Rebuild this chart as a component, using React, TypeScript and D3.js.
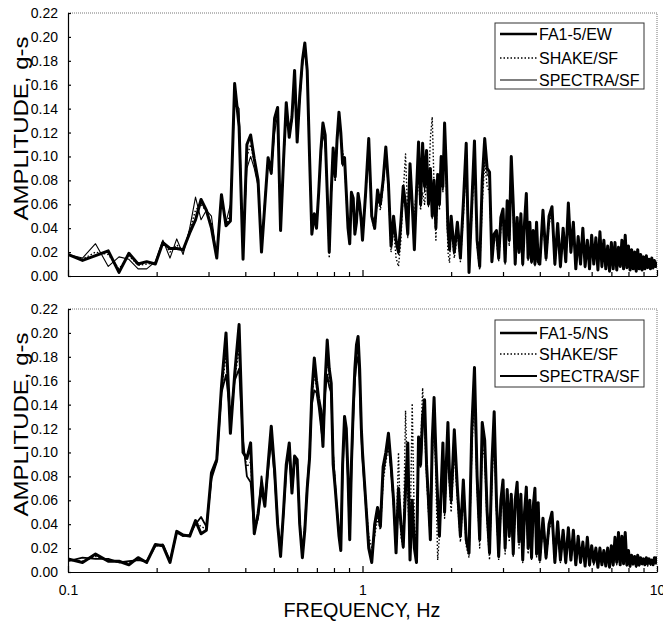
import React, { useEffect, useRef } from 'react';
import * as d3 from 'd3';

// frequency bins (Hz), shared by every series; coarser steps above 1 Hz
const freqHz = [
  0.100, 0.112, 0.124, 0.137, 0.149, 0.161, 0.173, 0.185, 0.198, 0.210,
  0.222, 0.234, 0.246, 0.259, 0.271, 0.283, 0.295, 0.307, 0.320, 0.332,
  0.344, 0.356, 0.368, 0.381, 0.393, 0.405, 0.417, 0.429, 0.442, 0.454,
  0.466, 0.478, 0.490, 0.503, 0.515, 0.527, 0.539, 0.551, 0.564, 0.576,
  0.588, 0.600, 0.612, 0.625, 0.637, 0.649, 0.661, 0.673, 0.686, 0.698,
  0.710, 0.722, 0.734, 0.747, 0.759, 0.771, 0.783, 0.795, 0.808, 0.820,
  0.832, 0.844, 0.856, 0.869, 0.881, 0.893, 0.905, 0.917, 0.930, 0.942,
  0.954, 0.966, 0.978, 0.991,
  1.000, 1.025, 1.050, 1.075, 1.100, 1.125, 1.150, 1.175, 1.200, 1.225,
  1.250, 1.275, 1.300, 1.325, 1.350, 1.375, 1.400, 1.425, 1.450, 1.475,
  1.500, 1.525, 1.550, 1.575, 1.600, 1.625, 1.650, 1.675, 1.700, 1.725,
  1.750, 1.775, 1.800, 1.825, 1.850, 1.875, 1.900, 1.925, 1.950, 1.975,
  2.00, 2.05, 2.10, 2.15, 2.20, 2.25, 2.30, 2.35, 2.40, 2.45,
  2.50, 2.55, 2.60, 2.65, 2.70, 2.75, 2.80, 2.85, 2.90, 2.95,
  3.00, 3.05, 3.10, 3.15, 3.20, 3.25, 3.30, 3.35, 3.40, 3.45,
  3.50, 3.55, 3.60, 3.65, 3.70, 3.75, 3.80, 3.85, 3.90, 3.95,
  4.0, 4.1, 4.2, 4.3, 4.4, 4.5, 4.6, 4.7, 4.8, 4.9,
  5.0, 5.1, 5.2, 5.3, 5.4, 5.5, 5.6, 5.7, 5.8, 5.9,
  6.0, 6.1, 6.2, 6.3, 6.4, 6.5, 6.6, 6.7, 6.8, 6.9,
  7.0, 7.1, 7.2, 7.3, 7.4, 7.5, 7.6, 7.7, 7.8, 7.9,
  8.0, 8.1, 8.2, 8.3, 8.4, 8.5, 8.6, 8.7, 8.8, 8.9,
  9.0, 9.1, 9.2, 9.3, 9.4, 9.5, 9.6, 9.7, 9.8, 9.9,
  10.0,
];

// top panel, EW component (amplitude, g-s)
const ewRecord = [
  0.018, 0.013, 0.017, 0.021, 0.003, 0.019, 0.010, 0.012, 0.010, 0.028,
  0.023, 0.023, 0.022, 0.036, 0.047, 0.064, 0.055, 0.040, 0.015, 0.068,
  0.042, 0.046, 0.161, 0.125, 0.014, 0.110, 0.118, 0.098, 0.080, 0.020,
  0.060, 0.099, 0.086, 0.132, 0.141, 0.038, 0.095, 0.145, 0.116, 0.133,
  0.172, 0.112, 0.150, 0.180, 0.195, 0.172, 0.100, 0.035, 0.052, 0.040,
  0.070, 0.105, 0.128, 0.118, 0.070, 0.020, 0.070, 0.107, 0.083, 0.115,
  0.137, 0.120, 0.094, 0.099, 0.070, 0.040, 0.027, 0.070, 0.065, 0.035,
  0.045, 0.069, 0.060, 0.045,
  0.030, 0.070, 0.115, 0.050, 0.040, 0.072, 0.060, 0.080, 0.108, 0.077,
  0.025, 0.050, 0.030, 0.020, 0.045, 0.075, 0.060, 0.035, 0.094, 0.060,
  0.022, 0.070, 0.112, 0.060, 0.111, 0.075, 0.105, 0.060, 0.090, 0.050,
  0.080, 0.040, 0.085, 0.060, 0.100, 0.075, 0.128, 0.090, 0.040, 0.022,
  0.050, 0.020, 0.045, 0.015, 0.061, 0.111, 0.003, 0.060, 0.113, 0.030,
  0.008, 0.080, 0.115, 0.090, 0.087, 0.012, 0.035, 0.038, 0.015, 0.049,
  0.056, 0.012, 0.063, 0.030, 0.100, 0.060, 0.010, 0.049, 0.020, 0.052,
  0.010, 0.045, 0.069, 0.015, 0.045, 0.012, 0.038, 0.010, 0.045, 0.012,
  0.010, 0.055, 0.015, 0.050, 0.058, 0.010, 0.044, 0.008, 0.040, 0.012,
  0.061, 0.020, 0.045, 0.006, 0.033, 0.010, 0.040, 0.008, 0.030, 0.006,
  0.034, 0.010, 0.032, 0.005, 0.037, 0.008, 0.030, 0.006, 0.025, 0.004,
  0.028, 0.006, 0.028, 0.005, 0.024, 0.008, 0.030, 0.006, 0.034, 0.007,
  0.025, 0.005, 0.022, 0.006, 0.020, 0.004, 0.022, 0.006, 0.018, 0.005,
  0.016, 0.006, 0.017, 0.007, 0.014, 0.006, 0.015, 0.007, 0.013, 0.008,
  0.012,
];

const ewShake = [
  0.018, 0.014, 0.020, 0.018, 0.006, 0.017, 0.009, 0.010, 0.011, 0.029,
  0.020, 0.026, 0.021, 0.038, 0.055, 0.060, 0.054, 0.044, 0.015, 0.067,
  0.043, 0.052, 0.155, 0.130, 0.016, 0.100, 0.110, 0.095, 0.078, 0.021,
  0.062, 0.097, 0.086, 0.126, 0.138, 0.039, 0.092, 0.142, 0.118, 0.131,
  0.168, 0.115, 0.148, 0.178, 0.192, 0.170, 0.098, 0.036, 0.050, 0.040,
  0.068, 0.102, 0.124, 0.114, 0.068, 0.015, 0.068, 0.104, 0.080, 0.112,
  0.133, 0.118, 0.104, 0.096, 0.066, 0.038, 0.028, 0.068, 0.063, 0.036,
  0.046, 0.067, 0.058, 0.044,
  0.030, 0.068, 0.110, 0.048, 0.038, 0.065, 0.055, 0.075, 0.104, 0.074,
  0.020, 0.040, 0.015, 0.008, 0.030, 0.070, 0.102, 0.050, 0.085, 0.062,
  0.050, 0.075, 0.080, 0.055, 0.070, 0.060, 0.078, 0.070, 0.115, 0.133,
  0.075, 0.030, 0.080, 0.055, 0.095, 0.070, 0.118, 0.080, 0.020, 0.011,
  0.040, 0.015, 0.035, 0.012, 0.050, 0.095, 0.010, 0.050, 0.098, 0.025,
  0.005, 0.060, 0.095, 0.075, 0.070, 0.015, 0.030, 0.030, 0.012, 0.040,
  0.048, 0.010, 0.055, 0.025, 0.085, 0.050, 0.008, 0.042, 0.018, 0.045,
  0.008, 0.040, 0.060, 0.012, 0.040, 0.010, 0.033, 0.008, 0.040, 0.010,
  0.009, 0.048, 0.013, 0.044, 0.052, 0.009, 0.040, 0.007, 0.036, 0.011,
  0.054, 0.018, 0.041, 0.006, 0.030, 0.009, 0.036, 0.007, 0.027, 0.006,
  0.030, 0.009, 0.029, 0.005, 0.033, 0.007, 0.027, 0.006, 0.023, 0.004,
  0.025, 0.006, 0.025, 0.005, 0.022, 0.007, 0.027, 0.006, 0.030, 0.007,
  0.023, 0.005, 0.020, 0.006, 0.018, 0.004, 0.020, 0.006, 0.016, 0.005,
  0.015, 0.006, 0.015, 0.006, 0.013, 0.006, 0.013, 0.006, 0.012, 0.007,
  0.011,
];

const ewSpectra = [
  0.018, 0.015, 0.027, 0.008, 0.016, 0.014, 0.006, 0.006, 0.012, 0.030,
  0.015, 0.031, 0.018, 0.040, 0.066, 0.047, 0.055, 0.050, 0.016, 0.066,
  0.045, 0.060, 0.145, 0.140, 0.020, 0.090, 0.100, 0.090, 0.075, 0.022,
  0.065, 0.095, 0.085, 0.120, 0.135, 0.040, 0.090, 0.140, 0.120, 0.130,
  0.165, 0.120, 0.145, 0.175, 0.190, 0.170, 0.100, 0.040, 0.048, 0.040,
  0.068, 0.100, 0.118, 0.110, 0.070, 0.025, 0.065, 0.100, 0.080, 0.110,
  0.130, 0.115, 0.092, 0.095, 0.068, 0.042, 0.030, 0.066, 0.062, 0.038,
  0.048, 0.066, 0.058, 0.046,
  0.032, 0.066, 0.108, 0.052, 0.042, 0.068, 0.058, 0.076, 0.100, 0.072,
  0.028, 0.046, 0.026, 0.018, 0.040, 0.070, 0.056, 0.032, 0.088, 0.058,
  0.025, 0.065, 0.105, 0.058, 0.104, 0.070, 0.100, 0.058, 0.085, 0.048,
  0.076, 0.042, 0.080, 0.058, 0.095, 0.072, 0.120, 0.085, 0.042, 0.025,
  0.048, 0.022, 0.042, 0.016, 0.058, 0.104, 0.006, 0.058, 0.106, 0.032,
  0.010, 0.076, 0.108, 0.085, 0.082, 0.014, 0.033, 0.036, 0.016, 0.046,
  0.053, 0.013, 0.060, 0.030, 0.095, 0.057, 0.012, 0.046, 0.020, 0.049,
  0.011, 0.043, 0.065, 0.016, 0.042, 0.013, 0.036, 0.011, 0.042, 0.013,
  0.011, 0.052, 0.016, 0.047, 0.055, 0.011, 0.042, 0.009, 0.038, 0.013,
  0.057, 0.020, 0.043, 0.007, 0.031, 0.011, 0.038, 0.009, 0.028, 0.007,
  0.032, 0.011, 0.030, 0.006, 0.035, 0.009, 0.028, 0.007, 0.024, 0.005,
  0.026, 0.007, 0.026, 0.006, 0.023, 0.008, 0.028, 0.007, 0.032, 0.008,
  0.024, 0.006, 0.021, 0.007, 0.019, 0.005, 0.021, 0.007, 0.017, 0.006,
  0.015, 0.007, 0.016, 0.007, 0.013, 0.007, 0.014, 0.007, 0.012, 0.008,
  0.011,
];

// bottom panel, NS component
const nsRecord = [
  0.011, 0.008, 0.015, 0.009, 0.009, 0.006, 0.012, 0.008, 0.023, 0.022,
  0.008, 0.034, 0.031, 0.030, 0.043, 0.032, 0.035, 0.083, 0.094, 0.155,
  0.200, 0.116, 0.165, 0.207, 0.100, 0.095, 0.108, 0.032, 0.049, 0.072,
  0.055, 0.090, 0.122, 0.085, 0.040, 0.013, 0.050, 0.090, 0.108, 0.066,
  0.097, 0.094, 0.040, 0.012, 0.035, 0.070, 0.095, 0.150, 0.179, 0.160,
  0.145, 0.135, 0.105, 0.160, 0.194, 0.170, 0.158, 0.090, 0.070, 0.050,
  0.030, 0.018, 0.090, 0.130, 0.120, 0.080, 0.027, 0.090, 0.136, 0.170,
  0.190, 0.197, 0.170, 0.120,
  0.100, 0.060, 0.020, 0.008, 0.040, 0.054, 0.038, 0.088, 0.100, 0.116,
  0.090, 0.060, 0.016, 0.070, 0.040, 0.021, 0.070, 0.108, 0.010, 0.060,
  0.020, 0.008, 0.113, 0.090, 0.130, 0.144, 0.090, 0.060, 0.027, 0.110,
  0.146, 0.100, 0.060, 0.030, 0.070, 0.108, 0.050, 0.090, 0.125, 0.080,
  0.060, 0.119, 0.070, 0.030, 0.077, 0.027, 0.016, 0.120, 0.171, 0.080,
  0.027, 0.125, 0.110, 0.050, 0.016, 0.090, 0.134, 0.060, 0.013, 0.060,
  0.077, 0.020, 0.069, 0.030, 0.065, 0.015, 0.060, 0.075, 0.025, 0.065,
  0.010, 0.050, 0.071, 0.020, 0.060, 0.012, 0.055, 0.070, 0.015, 0.058,
  0.010, 0.045, 0.012, 0.040, 0.050, 0.008, 0.042, 0.010, 0.035, 0.008,
  0.037, 0.010, 0.035, 0.006, 0.030, 0.008, 0.025, 0.005, 0.029, 0.006,
  0.022, 0.008, 0.020, 0.004, 0.020, 0.006, 0.018, 0.005, 0.020, 0.004,
  0.022, 0.006, 0.029, 0.008, 0.033, 0.006, 0.030, 0.007, 0.033, 0.006,
  0.018, 0.005, 0.014, 0.007, 0.013, 0.005, 0.014, 0.006, 0.012, 0.007,
  0.011, 0.006, 0.012, 0.007, 0.011, 0.007, 0.010, 0.006, 0.012, 0.008,
  0.013,
];

const nsShake = [
  0.010, 0.009, 0.013, 0.010, 0.008, 0.008, 0.011, 0.008, 0.022, 0.022,
  0.009, 0.033, 0.031, 0.030, 0.042, 0.038, 0.036, 0.080, 0.093, 0.152,
  0.180, 0.122, 0.162, 0.185, 0.104, 0.088, 0.092, 0.034, 0.048, 0.076,
  0.056, 0.088, 0.116, 0.083, 0.041, 0.014, 0.049, 0.088, 0.104, 0.067,
  0.095, 0.092, 0.041, 0.013, 0.036, 0.071, 0.096, 0.145, 0.165, 0.155,
  0.140, 0.128, 0.106, 0.155, 0.180, 0.162, 0.154, 0.099, 0.074, 0.050,
  0.032, 0.020, 0.088, 0.126, 0.118, 0.079, 0.029, 0.088, 0.132, 0.165,
  0.182, 0.188, 0.165, 0.118,
  0.098, 0.062, 0.030, 0.020, 0.030, 0.045, 0.035, 0.075, 0.092, 0.105,
  0.085, 0.055, 0.025, 0.100, 0.030, 0.020, 0.135, 0.060, 0.025, 0.141,
  0.040, 0.020, 0.090, 0.100, 0.154, 0.120, 0.080, 0.050, 0.030, 0.095,
  0.130, 0.080, 0.010, 0.030, 0.060, 0.100, 0.045, 0.080, 0.110, 0.070,
  0.050, 0.100, 0.060, 0.025, 0.065, 0.022, 0.012, 0.100, 0.150, 0.070,
  0.020, 0.105, 0.095, 0.040, 0.010, 0.075, 0.115, 0.050, 0.010, 0.050,
  0.065, 0.015, 0.060, 0.025, 0.055, 0.012, 0.050, 0.065, 0.020, 0.058,
  0.008, 0.042, 0.062, 0.015, 0.050, 0.010, 0.048, 0.060, 0.012, 0.050,
  0.008, 0.040, 0.010, 0.035, 0.044, 0.007, 0.037, 0.008, 0.031, 0.007,
  0.033, 0.009, 0.031, 0.005, 0.026, 0.007, 0.022, 0.005, 0.025, 0.005,
  0.020, 0.006, 0.018, 0.004, 0.018, 0.005, 0.016, 0.005, 0.018, 0.004,
  0.020, 0.005, 0.026, 0.006, 0.030, 0.005, 0.027, 0.006, 0.030, 0.005,
  0.016, 0.004, 0.012, 0.005, 0.011, 0.004, 0.012, 0.005, 0.010, 0.005,
  0.009, 0.005, 0.010, 0.005, 0.009, 0.005, 0.009, 0.005, 0.010, 0.006,
  0.011,
];

const nsSpectra = [
  0.009, 0.012, 0.011, 0.011, 0.008, 0.009, 0.010, 0.009, 0.022, 0.023,
  0.009, 0.033, 0.030, 0.031, 0.040, 0.046, 0.038, 0.078, 0.092, 0.150,
  0.165, 0.130, 0.160, 0.170, 0.110, 0.080, 0.075, 0.035, 0.045, 0.080,
  0.058, 0.085, 0.110, 0.080, 0.042, 0.015, 0.048, 0.085, 0.100, 0.068,
  0.092, 0.090, 0.042, 0.014, 0.038, 0.072, 0.098, 0.140, 0.152, 0.150,
  0.138, 0.122, 0.108, 0.150, 0.165, 0.155, 0.150, 0.098, 0.072, 0.050,
  0.032, 0.020, 0.085, 0.122, 0.115, 0.078, 0.030, 0.085, 0.128, 0.160,
  0.175, 0.180, 0.160, 0.115,
  0.095, 0.058, 0.022, 0.012, 0.038, 0.050, 0.040, 0.082, 0.095, 0.110,
  0.086, 0.058, 0.020, 0.065, 0.042, 0.024, 0.065, 0.100, 0.014, 0.058,
  0.024, 0.012, 0.105, 0.088, 0.120, 0.132, 0.088, 0.058, 0.030, 0.102,
  0.135, 0.096, 0.058, 0.032, 0.066, 0.100, 0.052, 0.085, 0.115, 0.078,
  0.058, 0.110, 0.068, 0.032, 0.072, 0.030, 0.018, 0.112, 0.158, 0.078,
  0.030, 0.115, 0.104, 0.050, 0.018, 0.085, 0.124, 0.058, 0.015, 0.057,
  0.072, 0.022, 0.065, 0.032, 0.062, 0.017, 0.057, 0.070, 0.026, 0.062,
  0.012, 0.048, 0.067, 0.021, 0.057, 0.013, 0.052, 0.066, 0.016, 0.055,
  0.011, 0.043, 0.013, 0.038, 0.047, 0.009, 0.040, 0.011, 0.033, 0.009,
  0.035, 0.011, 0.033, 0.007, 0.028, 0.009, 0.024, 0.006, 0.027, 0.007,
  0.021, 0.008, 0.019, 0.005, 0.019, 0.007, 0.017, 0.006, 0.019, 0.005,
  0.021, 0.007, 0.027, 0.008, 0.031, 0.007, 0.028, 0.007, 0.031, 0.007,
  0.017, 0.006, 0.013, 0.007, 0.012, 0.006, 0.013, 0.007, 0.011, 0.007,
  0.010, 0.006, 0.011, 0.007, 0.010, 0.007, 0.010, 0.006, 0.011, 0.008,
  0.012,
];

const yTicks = [0, 0.02, 0.04, 0.06, 0.08, 0.1, 0.12, 0.14, 0.16, 0.18, 0.2, 0.22];
const xMajor = [0.1, 1, 10];
const xMinor = [0.2, 0.3, 0.4, 0.5, 0.6, 0.7, 0.8, 0.9, 2, 3, 4, 5, 6, 7, 8, 9];
const ewLegend = ['FA1-5/EW', 'SHAKE/SF', 'SPECTRA/SF'];
const nsLegend = ['FA1-5/NS', 'SHAKE/SF', 'SPECTRA/SF'];

const FONT = 'Arial, "Liberation Sans", Helvetica, sans-serif';

const SpectraChart = () => {
  const svgRef = useRef(null);

  useEffect(() => {
    const svg = d3.select(svgRef.current);
    svg.selectAll('*').remove();

    const left = 68;
    const right = 657;
    const x = d3.scaleLog().domain([0.1, 10]).range([left, right]);

    const panels = [
      { top: 13, bottom: 276, data: [ewRecord, ewShake, ewSpectra], legend: ewLegend,
        thinWidth: 1.1, boxTop: 23, boxH: 66, rows: [34, 58, 80], labels: false },
      { top: 309, bottom: 572, data: [nsRecord, nsShake, nsSpectra], legend: nsLegend,
        thinWidth: 1.8, boxTop: 320, boxH: 67, rows: [333, 354, 376], labels: true },
    ];

    panels.forEach((p, pi) => {
      const y = d3.scaleLinear().domain([0, 0.22]).range([p.bottom, p.top]);
      const styles = [
        { w: 3, dash: null },
        { w: 1.4, dash: '1.5,2' },
        { w: p.thinWidth, dash: null },
      ];

      // dotted frame on top and right
      svg.append('path')
        .attr('d', `M${left},${p.top}H${right}V${p.bottom}`)
        .attr('fill', 'none').attr('stroke', '#777').attr('stroke-width', 1)
        .attr('stroke-dasharray', '1,1');

      const clipId = `plot-clip-${pi}`;
      svg.append('clipPath').attr('id', clipId)
        .append('rect').attr('x', left).attr('y', p.top - 2)
        .attr('width', right - left).attr('height', p.bottom - p.top + 2);

      const line = d3.line().x(d => x(d[0])).y(d => y(d[1]));
      const g = svg.append('g').attr('clip-path', `url(#${clipId})`);

      // spectra, shake, then the record on top
      [2, 1, 0].forEach(si => {
        const pts = freqHz.map((f, i) => [f, p.data[si][i]]).filter(d => d[1] != null);
        g.append('path').datum(pts)
          .attr('fill', 'none').attr('stroke', '#000')
          .attr('stroke-width', styles[si].w)
          .attr('stroke-linejoin', 'round')
          .attr('stroke-dasharray', styles[si].dash)
          .attr('d', line);
      });

      // y axis
      svg.append('g').attr('transform', `translate(${left},0)`)
        .call(d3.axisLeft(y).tickValues(yTicks).tickFormat(d3.format('.2f'))
          .tickSize(-3).tickSizeOuter(0).tickPadding(10))
        .attr('font-size', 14).attr('font-family', FONT)
        .call(a => a.selectAll('line,path').attr('stroke', '#000').attr('stroke-width', 1.2))
        .call(a => a.selectAll('text').attr('fill', '#000'));

      // x axis: minor ticks and majors
      svg.append('g').attr('transform', `translate(0,${p.bottom})`)
        .call(d3.axisBottom(x).tickValues(xMinor).tickFormat(() => '')
          .tickSize(-4).tickSizeOuter(0))
        .call(a => a.selectAll('line,path').attr('stroke', '#000').attr('stroke-width', 1.2));

      svg.append('g').attr('transform', `translate(0,${p.bottom})`)
        .call(d3.axisBottom(x).tickValues(xMajor)
          .tickFormat(d => (p.labels ? String(d) : ''))
          .tickSize(-6).tickSizeOuter(0).tickPadding(13))
        .attr('font-size', 14).attr('font-family', FONT)
        .call(a => a.select('.domain').remove())
        .call(a => a.selectAll('line').attr('stroke', '#000').attr('stroke-width', 1.2))
        .call(a => a.selectAll('text').attr('fill', '#000'));

      // y title
      svg.append('text')
        .attr('transform', `translate(28,${(p.top + p.bottom) / 2 - 16}) rotate(-90)`)
        .attr('text-anchor', 'middle').attr('font-family', FONT).attr('font-size', 21)
        .attr('textLength', 184).attr('lengthAdjust', 'spacingAndGlyphs')
        .text('AMPLITUDE, g-s');

      // legend
      svg.append('rect')
        .attr('x', 495).attr('y', p.boxTop).attr('width', 149).attr('height', p.boxH)
        .attr('fill', '#fff').attr('stroke', '#333').attr('stroke-width', 1);
      p.legend.forEach((label, i) => {
        const ly = p.rows[i];
        svg.append('line')
          .attr('x1', 500).attr('x2', 537).attr('y1', ly).attr('y2', ly)
          .attr('stroke', '#000').attr('stroke-width', Math.min(styles[i].w, 2.6))
          .attr('stroke-dasharray', styles[i].dash);
        svg.append('text')
          .attr('x', 539).attr('y', ly).attr('dy', '0.36em')
          .attr('font-family', FONT).attr('font-size', 16)
          .text(label);
      });
    });

    svg.append('text')
      .attr('x', 362).attr('y', 617)
      .attr('text-anchor', 'middle').attr('font-family', FONT).attr('font-size', 20)
      .attr('textLength', 157).attr('lengthAdjust', 'spacingAndGlyphs')
      .text('FREQUENCY, Hz');
  }, []);

  return (
    <svg ref={svgRef} width={663} height={622}
      style={{ position: 'absolute', left: 0, top: 0, background: '#fff' }} />
  );
};

export default function App() {
  return <SpectraChart />;
}
